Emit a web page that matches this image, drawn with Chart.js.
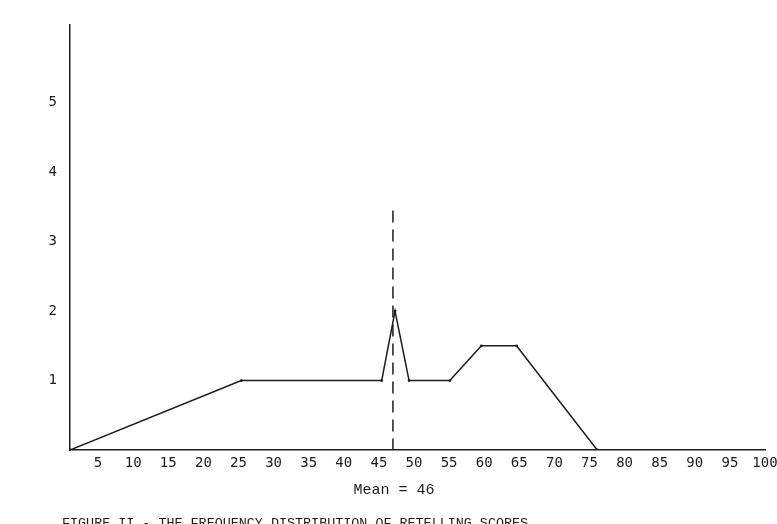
<!DOCTYPE html>
<html>
<head>
<meta charset="utf-8">
<script src="https://cdn.jsdelivr.net/npm/chart.js@4"></script>
<style>
  html, body { margin: 0; padding: 0; background: #fff; }
  #wrap { width: 777px; height: 524px; }
</style>
</head>
<body>
<div id="wrap"><canvas id="freqChart" width="777" height="524"></canvas></div>
<script>
// frequency polygon
const scores = [1, 25.4, 45.4, 47.3, 49.3, 55.1, 59.6, 64.6, 76.1];
const frequencies = [0, 1, 1, 2, 1, 1, 1.5, 1.5, 0];

// dashed mean marker (drawn top down)
const meanLineX = [47, 47];
const meanLineY = [3.45, 0];

const xTickValues = [5, 10, 15, 20, 25, 30, 35, 40, 45, 50, 55, 60, 65, 70, 75, 80, 85, 90, 95, 100];
const yTickValues = [1, 2, 3, 4, 5];

const meanLabel = 'Mean = 46';
const caption = 'FIGURE II - THE FREQUENCY DISTRIBUTION OF RETELLING SCORES';

const ink = '#1c1c1c';

// caption and mean label under the axis
const textPlugin = {
    id: 'figureText',
    afterDraw(chart) {
        const ctx = chart.ctx;
        ctx.save();
        ctx.fillStyle = ink;
        ctx.textAlign = 'center';
        ctx.textBaseline = 'middle';
        ctx.font = '15px "Liberation Mono"';
        ctx.fillText(meanLabel, 394, 490);
        ctx.textAlign = 'left';
        ctx.textBaseline = 'alphabetic';
        ctx.font = '13.4px "Liberation Mono"';
        ctx.fillText(caption, 62, 527);
        ctx.restore();
    }
};

new Chart(document.getElementById('freqChart'), {
    type: 'scatter',
    data: {
        datasets: [{
            data: scores.map((s, i) => ({ x: s, y: frequencies[i] })),
            showLine: true,
            borderColor: ink,
            borderWidth: 1.5,
            pointRadius: 1.4,
            pointBackgroundColor: ink,
            pointBorderWidth: 0,
            tension: 0
        }, {
            data: meanLineX.map((s, i) => ({ x: s, y: meanLineY[i] })),
            showLine: true,
            borderColor: ink,
            borderWidth: 1.5,
            borderDash: [12, 7],
            pointRadius: 0
        }]
    },
    options: {
        responsive: false,
        animation: false,
        layout: { padding: { top: 25, right: 12, left: 0, bottom: 0 } },
        plugins: {
            legend: { display: false },
            tooltip: { enabled: false }
        },
        scales: {
            x: {
                type: 'linear',
                min: 1,
                max: 100,
                grid: { display: false, drawTicks: false },
                border: { display: true, color: ink, width: 1.5 },
                afterBuildTicks: (scale) => { scale.ticks = xTickValues.map(v => ({ value: v })); },
                afterFit: (scale) => {
                    scale.height = 74;
                    scale.paddingLeft = 0;
                    scale.paddingRight = 0;
                },
                ticks: {
                    color: ink,
                    padding: 5,
                    maxRotation: 0,
                    autoSkip: false,
                    font: { family: '"DejaVu Sans Mono"', size: 14 }
                }
            },
            y: {
                min: 0,
                max: 6.12,
                grid: { display: false, drawTicks: false },
                border: { display: true, color: ink, width: 1.5 },
                afterBuildTicks: (scale) => { scale.ticks = yTickValues.map(v => ({ value: v })); },
                afterFit: (scale) => { scale.width = 70; },
                ticks: {
                    color: ink,
                    padding: 13,
                    font: { family: '"DejaVu Sans Mono"', size: 14 }
                }
            }
        }
    },
    plugins: [textPlugin]
});
</script>
</body>
</html>
